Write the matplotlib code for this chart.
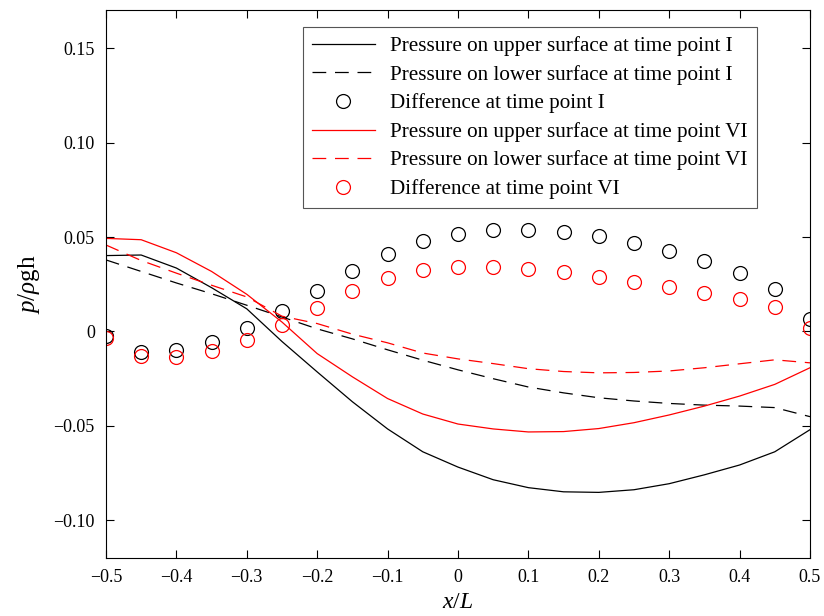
import numpy as np
import matplotlib
matplotlib.use("Agg")
import matplotlib.pyplot as plt

x = [-0.5, -0.45, -0.4, -0.35, -0.3, -0.25, -0.2, -0.15, -0.1, -0.05, 0.0,
     0.05, 0.1, 0.15, 0.2, 0.25, 0.3, 0.35, 0.4, 0.45, 0.5]

upper_I = [0.0402, 0.0405, 0.0336, 0.0232, 0.0120, -0.0053, -0.0214, -0.0372, -0.0516, -0.0637, -0.0718,
           -0.0785, -0.0827, -0.0849, -0.0852, -0.0838, -0.0806, -0.0759, -0.0707, -0.0637, -0.0520]
lower_I = [0.0379, 0.0318, 0.0257, 0.0200, 0.0139, 0.0077, 0.0014, -0.0039, -0.0097, -0.0152, -0.0203,
           -0.0250, -0.0294, -0.0325, -0.0351, -0.0368, -0.0381, -0.0390, -0.0395, -0.0403, -0.0451]
diff_I = [-0.0025, -0.0110, -0.0100, -0.0055, 0.0017, 0.0107, 0.0215, 0.0320, 0.0410, 0.0477, 0.0515,
          0.0535, 0.0535, 0.0526, 0.0506, 0.0471, 0.0426, 0.0371, 0.0310, 0.0227, 0.0065]

upper_VI = [0.0493, 0.0486, 0.0417, 0.0318, 0.0197, 0.0050, -0.0117, -0.0240, -0.0355, -0.0437, -0.0490,
            -0.0516, -0.0532, -0.0530, -0.0514, -0.0483, -0.0442, -0.0395, -0.0342, -0.0280, -0.0192]
lower_VI = [0.0458, 0.0376, 0.0309, 0.0245, 0.0183, 0.0081, 0.0042, -0.0014, -0.0060, -0.0114, -0.0145,
            -0.0170, -0.0197, -0.0212, -0.0219, -0.0217, -0.0209, -0.0192, -0.0171, -0.0150, -0.0166]
diff_VI = [-0.0032, -0.0130, -0.0134, -0.0102, -0.0044, 0.0032, 0.0127, 0.0213, 0.0281, 0.0324, 0.0341,
           0.0343, 0.0333, 0.0315, 0.0289, 0.0262, 0.0234, 0.0204, 0.0174, 0.0132, 0.0020]

labels = ["Pressure on upper surface at time point I",
          "Pressure on lower surface at time point I",
          "Difference at time point I",
          "Pressure on upper surface at time point VI",
          "Pressure on lower surface at time point VI",
          "Difference at time point VI"]

xticks = [-0.5, -0.4, -0.3, -0.2, -0.1, 0, 0.1, 0.2, 0.3, 0.4, 0.5]
xticklabels = ["\u22120.5", "\u22120.4", "\u22120.3", "\u22120.2", "\u22120.1", "0", "0.1", "0.2", "0.3", "0.4", "0.5"]
yticks = [-0.10, -0.05, 0, 0.05, 0.10, 0.15]
yticklabels = ["\u22120.10", "\u22120.05", "0", "0.05", "0.10", "0.15"]

plt.rcParams['font.family'] = ['Liberation Serif', 'DejaVu Serif']
plt.rcParams['mathtext.fontset'] = 'custom'
plt.rcParams['mathtext.rm'] = 'Liberation Serif'
plt.rcParams['mathtext.it'] = 'Liberation Serif:italic'

fig = plt.figure(figsize=(8.24, 6.16), dpi=100)
ax = fig.add_axes([0.1286, 0.094, 0.8544, 0.889])

lw = 0.9
dash = (0, (11, 7))
ax.plot(x, upper_I, color='black', lw=lw, label=labels[0])
ax.plot(x, lower_I, color='black', lw=lw, linestyle=dash, label=labels[1])
ax.plot(x, diff_I, linestyle='none', marker='o', mfc='none', mec='black', ms=10, mew=0.9, label=labels[2])
ax.plot(x, upper_VI, color='red', lw=lw, label=labels[3])
ax.plot(x, lower_VI, color='red', lw=lw, linestyle=dash, label=labels[4])
ax.plot(x, diff_VI, linestyle='none', marker='o', mfc='none', mec='red', ms=10, mew=0.9, label=labels[5])

ax.set_xlim(-0.5, 0.5)
ax.set_ylim(-0.12, 0.17)
ax.set_xticks(xticks)
ax.set_xticklabels(xticklabels)
ax.set_yticks(yticks)
ax.set_yticklabels(yticklabels)
ax.tick_params(direction='in', top=True, right=True, labelsize=13, length=6, width=0.8, pad=8)
for s in ax.spines.values():
    s.set_linewidth(0.8)

ax.set_xlabel(r"$x/L$", fontsize=17, labelpad=4)
ax.set_ylabel(r"$p/\rho\mathrm{gh}$", fontsize=18, labelpad=8)

leg = ax.legend(loc='upper left', bbox_to_anchor=(0.2798, 0.969), fontsize=15.2, frameon=True,
                fancybox=False, edgecolor='#555555', handlelength=3.0, handletextpad=0.72,
                borderpad=0.42, labelspacing=0.41, framealpha=1, borderaxespad=0)
leg.get_frame().set_linewidth(0.8)

fig.savefig("out.png", dpi=100)
